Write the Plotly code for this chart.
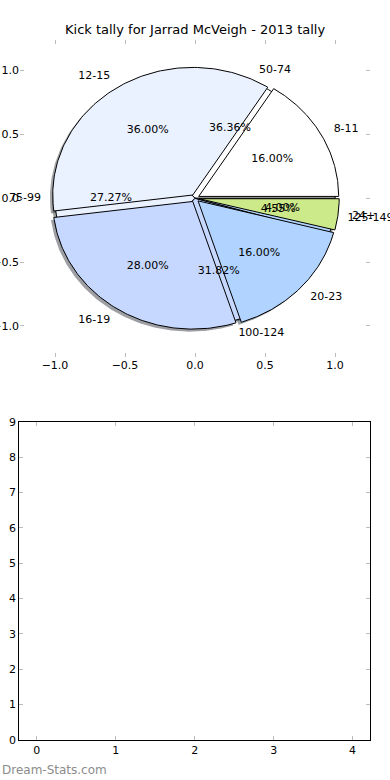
import numpy as np
import plotly.graph_objects as go

# ---- data ----
title_text = "Kick tally for Jarrad McVeigh - 2013 tally"
kick_labels = ["8-11", "12-15", "16-19", "20-23", "24+"]
kick_values = [4, 9, 7, 4, 1]          # 16%, 36%, 28%, 16%, 4%
dist_labels = ["50-74", "75-99", "100-124", "125-149"]
dist_values = [8, 6, 7, 1]             # 36.36%, 27.27%, 31.82%, 4.55%
slice_colors = ["#ffffff", "#eaf1ff", "#c6d8ff", "#b0d4ff", "#cdea8a"]
top_ticks = [-1.0, -0.5, 0.0, 0.5, 1.0]
bottom_xticks = [0, 1, 2, 3, 4]
bottom_yticks = list(range(10))

W, H = 390, 780
FONT = "DejaVu Sans"

def px_x(p):
    return p / W

def px_y(p):
    return 1 - p / H

def shade(hexcol):
    h = hexcol.lstrip("#")
    r, g, b = (int(h[i:i + 2], 16) for i in (0, 2, 4))
    return "rgba(%d,%d,%d,0.5)" % (0.3 * r, 0.3 * g, 0.3 * b)

def pie_geometry(values, explode):
    vals = np.asarray(values, float)
    frac = vals / vals.sum()
    edges = np.concatenate([[0.0], np.cumsum(frac)]) * 360.0
    out = []
    for i in range(len(vals)):
        t1, t2 = edges[i], edges[i + 1]
        tm = np.deg2rad((t1 + t2) / 2)
        cx, cy = explode * np.cos(tm), explode * np.sin(tm)
        ang = np.deg2rad(np.linspace(t1, t2, 120))
        xs = np.concatenate([[cx], cx + np.cos(ang), [cx]])
        ys = np.concatenate([[cy], cy + np.sin(ang), [cy]])
        out.append(dict(xs=xs, ys=ys, cx=cx, cy=cy, tm=tm, pct=frac[i] * 100))
    return out

kick_geo = pie_geometry(kick_values, 0.03)
dist_geo = pie_geometry(dist_values, 0.0)

fig = go.Figure()

# shadows (below all wedges)
for geo in (dist_geo, kick_geo):
    for i, g in enumerate(geo):
        fig.add_trace(go.Scatter(x=g["xs"] - 0.02, y=g["ys"] - 0.02, mode="lines",
                                 fill="toself", fillcolor=shade(slice_colors[i]),
                                 line=dict(width=0), hoverinfo="skip",
                                 showlegend=False, xaxis="x", yaxis="y"))

# wedges: distance pie first, kick pie on top
for geo in (dist_geo, kick_geo):
    for i, g in enumerate(geo):
        fig.add_trace(go.Scatter(x=g["xs"], y=g["ys"], mode="lines",
                                 fill="toself", fillcolor=slice_colors[i],
                                 line=dict(color="black", width=1), hoverinfo="skip",
                                 showlegend=False, xaxis="x", yaxis="y"))

# labels
for geo, labels in ((kick_geo, kick_labels), (dist_geo, dist_labels)):
    for g, lab in zip(geo, labels):
        lx = g["cx"] + 1.1 * np.cos(g["tm"])
        ly = g["cy"] + 1.1 * np.sin(g["tm"])
        fig.add_trace(go.Scatter(x=[lx], y=[ly], mode="text", text=[lab],
                                 textposition="middle right" if lx > 0 else "middle left",
                                 textfont=dict(family=FONT, size=11, color="black"),
                                 cliponaxis=False,
                                 hoverinfo="skip", showlegend=False, xaxis="x", yaxis="y"))
        px_ = g["cx"] + 0.6 * np.cos(g["tm"])
        py_ = g["cy"] + 0.6 * np.sin(g["tm"])
        fig.add_trace(go.Scatter(x=[px_], y=[py_], mode="text", text=["%.2f%%" % g["pct"]],
                                 textposition="middle center",
                                 textfont=dict(family=FONT, size=11, color="black"),
                                 cliponaxis=False,
                                 hoverinfo="skip", showlegend=False, xaxis="x", yaxis="y"))

# empty bottom axes
fig.add_trace(go.Scatter(x=[None], y=[None], mode="markers", hoverinfo="skip",
                         showlegend=False, xaxis="x2", yaxis="y2"))

tickfont = dict(family=FONT, size=11, color="black")
common = dict(showgrid=False, zeroline=False, ticks="inside", ticklen=4,
              tickcolor="#bbbbbb", mirror="allticks", tickfont=tickfont,
              automargin=False)
fig.update_layout(
    width=W, height=H,
    margin=dict(l=0, r=0, t=0, b=0, pad=0, autoexpand=False),
    paper_bgcolor="white", plot_bgcolor="white",
    font=dict(family=FONT, size=11, color="black"),
    xaxis=dict(domain=[px_x(20), px_x(370)], range=[-1.25, 1.25], anchor="y",
               tickvals=top_ticks, tickformat=".1f", showline=False, **common),
    yaxis=dict(domain=[px_y(356.5), px_y(40)], range=[-1.24, 1.24], anchor="x",
               tickvals=top_ticks, tickformat=".1f", showline=False, **common),
    xaxis2=dict(domain=[px_x(19.3), px_x(370)], range=[-0.22, 4.22], anchor="y2",
                tickvals=bottom_xticks, showline=True, linecolor="black", linewidth=1,
                **common),
    yaxis2=dict(domain=[px_y(740), px_y(421.7)], range=[0, 9], anchor="x2",
                tickvals=bottom_yticks, showline=True, linecolor="black", linewidth=1,
                **common),
    annotations=[
        dict(text=title_text, x=0.5, y=px_y(30), xref="paper", yref="paper",
             showarrow=False, xanchor="center", yanchor="middle",
             font=dict(family=FONT, size=13, color="black")),
        dict(text="Dream-Stats.com", x=0, y=px_y(770), xref="paper", yref="paper",
             showarrow=False, xanchor="left", yanchor="middle",
             font=dict(family=FONT, size=12, color="#8c8c8c")),
    ],
)

fig.write_html("out.html", config={"displayModeBar": False},
               post_script="document.body.style.margin='0';")
